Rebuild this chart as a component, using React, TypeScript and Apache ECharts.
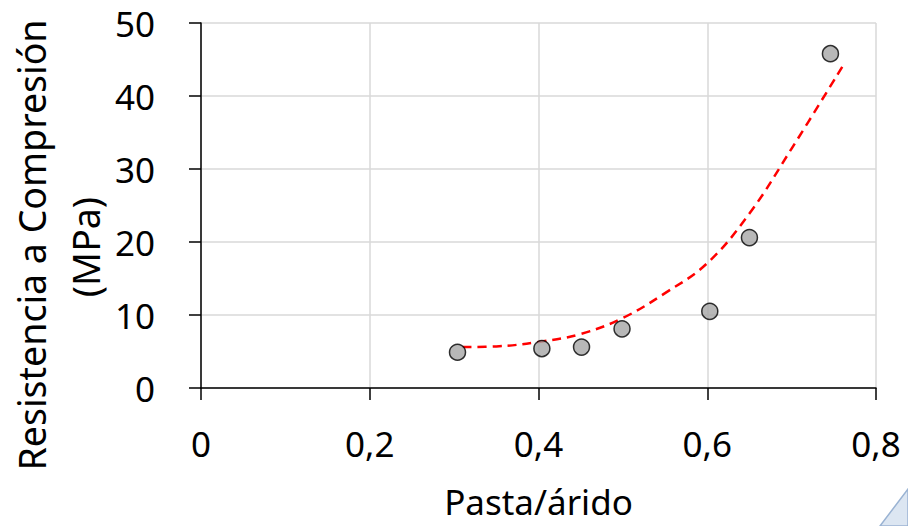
import React, { useEffect, useRef } from "react";
import * as echarts from "echarts";

const pastaArido = [0.304, 0.404, 0.451, 0.499, 0.603, 0.65, 0.746];
const resistencia = [4.9, 5.4, 5.6, 8.1, 10.5, 20.6, 45.8];

const trendX = [0.31, 0.35, 0.4, 0.45, 0.5, 0.55, 0.6, 0.65, 0.7, 0.76];
const trendY = [5.6, 5.7, 6.3, 7.4, 9.6, 13.0, 17.1, 23.9, 32.8, 44.0];

const xTicks = [0, 0.2, 0.4, 0.6, 0.8];
const yTicks = [0, 10, 20, 30, 40, 50];

const yTitleLines = ["Resistencia a Compresión", "(MPa)"];

const FONT = "Noto Sans";

export default function App() {
  const ref = useRef<HTMLDivElement>(null);
  useEffect(() => {
    if (!ref.current) return;
    const chart = echarts.init(ref.current, null, { renderer: "svg" });
    chart.setOption({
      animation: false,
      backgroundColor: "#ffffff",
      textStyle: { fontFamily: FONT },
      grid: { left: 201, right: 32, top: 23, bottom: 138, containLabel: false, outerBoundsMode: "none" },
      xAxis: {
        type: "value",
        min: xTicks[0],
        max: xTicks[xTicks.length - 1],
        interval: 0.2,
        name: "Pasta/árido",
        nameLocation: "middle",
        nameGap: 98,
        nameTextStyle: { fontSize: 35, lineHeight: 30, color: "#000", fontFamily: FONT },
        axisLine: { onZero: false, lineStyle: { color: "#000", width: 1.5 } },
        axisTick: { show: true, inside: false, length: 12, lineStyle: { color: "#000", width: 1.5 } },
        axisLabel: {
          fontSize: 35,
          color: "#000",
          margin: 38,
          fontFamily: FONT,
          formatter: (v: number) => String(Math.round(v * 10) / 10).replace(".", ","),
        },
        splitLine: { show: true, lineStyle: { color: "#d9d9d9", width: 1.5 } },
      },
      yAxis: {
        type: "value",
        min: yTicks[0],
        max: yTicks[yTicks.length - 1],
        interval: 10,
        axisLine: { show: true, lineStyle: { color: "#000", width: 1.5 } },
        axisTick: { show: true, inside: false, length: 12, lineStyle: { color: "#000", width: 1.5 } },
        axisLabel: { fontSize: 35, color: "#000", margin: 46, fontFamily: FONT },
        splitLine: { show: true, lineStyle: { color: "#d9d9d9", width: 1.5 } },
      },
      series: [
        {
          type: "line",
          data: trendX.map((x, i) => [x, trendY[i]]),
          smooth: 0.4,
          showSymbol: false,
          symbol: "none",
          lineStyle: { color: "#ff0000", width: 2.5, type: [9, 6] },
          z: 2,
        },
        {
          type: "scatter",
          data: pastaArido.map((x, i) => [x, resistencia[i]]),
          symbol: "circle",
          symbolSize: 16,
          itemStyle: { color: "#a6a6a6", borderColor: "#000", borderWidth: 1.5 },
          z: 3,
        },
      ],
      graphic: [
        {
          type: "text",
          x: 31,
          y: 245,
          rotation: Math.PI / 2,
          style: {
            text: yTitleLines[0],
            fontSize: 37.5,
            fontFamily: FONT,
            fill: "#000",
            textAlign: "center",
            textVerticalAlign: "middle",
          },
        },
        {
          type: "text",
          x: 85,
          y: 247,
          rotation: Math.PI / 2,
          style: {
            text: yTitleLines[1],
            fontSize: 37.5,
            fontFamily: FONT,
            fill: "#000",
            textAlign: "center",
            textVerticalAlign: "middle",
          },
        },
        {
          type: "polygon",
          shape: { points: [[880, 526], [908, 489], [908, 526]] },
          style: { fill: "#dce6f2", stroke: "#9ab3d3", lineWidth: 1.5 },
        },
      ],
    });
    return () => chart.dispose();
  }, []);
  return <div ref={ref} style={{ width: 908, height: 526, position: "absolute", left: 0, top: 0 }} />;
}
